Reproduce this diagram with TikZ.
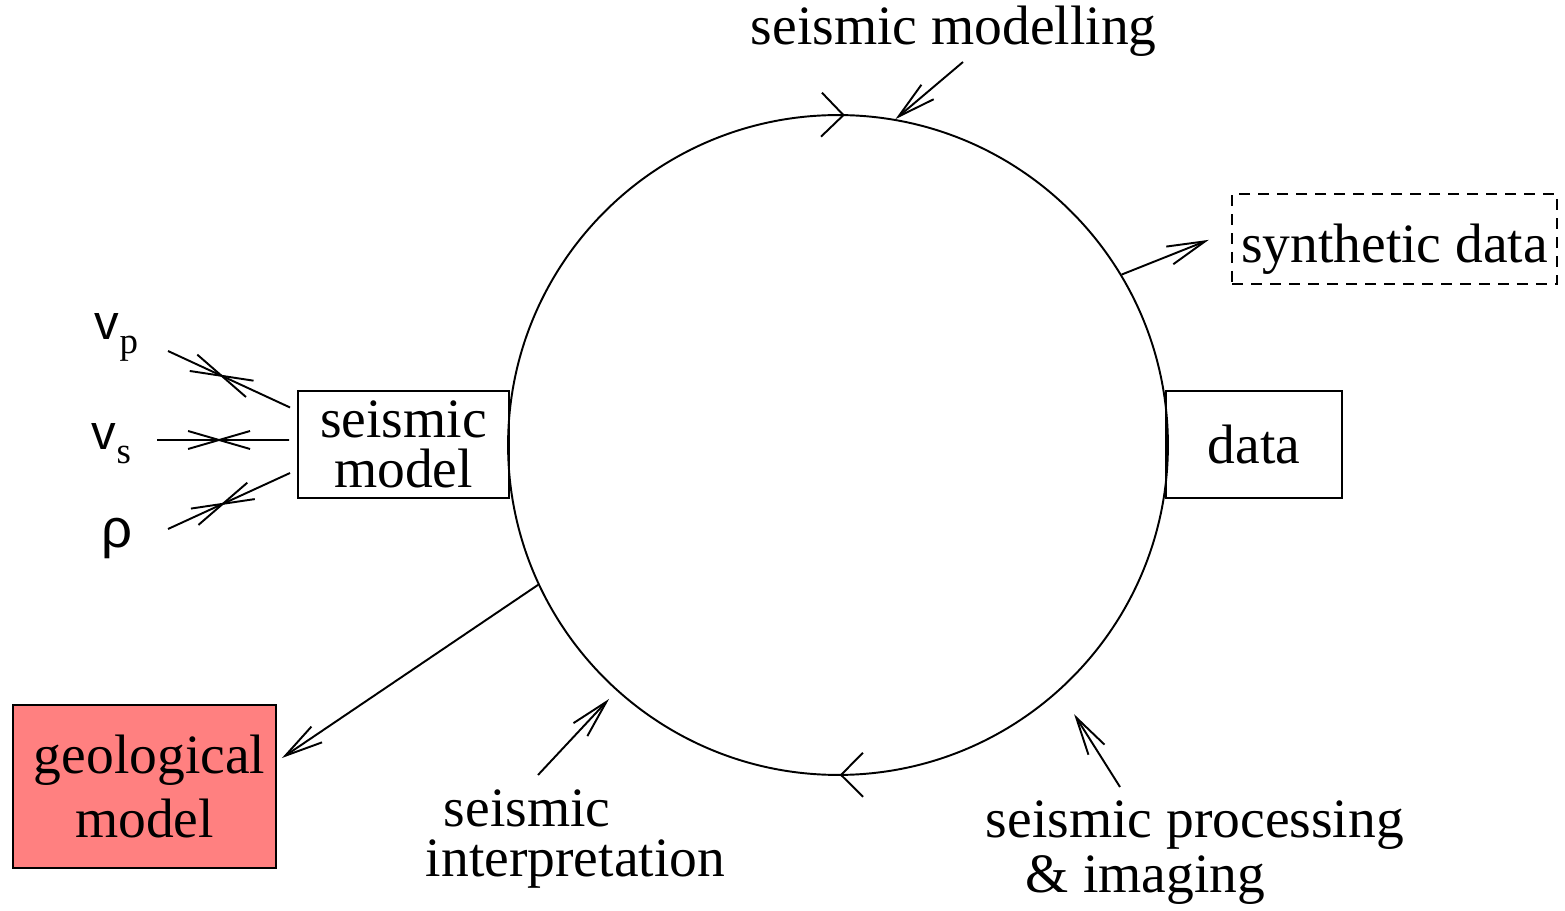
\documentclass[tikz,border=0pt]{standalone}
\usepackage{fontspec}
\setmainfont{Liberation Serif}
\setsansfont{Liberation Sans}
\usetikzlibrary{arrows.meta,decorations.markings}
\definecolor{geofill}{HTML}{FF8080}
\newcommand{\velo}[1]{{\sffamily\fontsize{28pt}{28pt}\selectfont v}\raisebox{-0.28cm}{\fontsize{21pt}{21pt}\selectfont #1}}

\begin{document}
\begin{tikzpicture}[
  x=0.02cm, y=0.02cm, line width=1.1pt,
  every node/.style={font=\fontsize{31.6pt}{28.45pt}\selectfont, inner sep=0pt},
  box/.style={draw, align=center, minimum height=2.14cm},
  txt/.style={align=left},
  arrow/.style={-{Straight Barb[length=0.76cm, width=0.38cm]}},
  crossline/.style={postaction={decorate, decoration={markings,
    mark=at position #1 with {\draw (-0.62cm,-0.18cm) -- (0.62cm,0.18cm) (-0.62cm,0.18cm) -- (0.62cm,-0.18cm);}}}}
]
\useasboundingbox (0,0) rectangle (1565,910);

% the processing loop
\node[draw, circle, minimum size=13.2cm] (loop) at (838,465) {};
\path[decorate, decoration={markings,
  mark=at position 0.2467 with {\arrowreversed{Straight Barb[length=0.44cm, width=0.88cm]}},
  mark=at position 0.7508 with {\arrowreversed{Straight Barb[length=0.44cm, width=0.88cm]}}}]
  (loop.center) circle[radius=6.6cm];

% boxes
\node[box, minimum width=4.22cm] (model) at (403.5,465.5) {seismic\\model};
\node[box, minimum width=3.52cm, text depth=0pt] (data) at (1254,465.5) {data};
\node[box, dash pattern=on 0.22cm off 0.16cm, minimum width=6.5cm, minimum height=1.8cm,
  text height=0.96cm, text depth=0pt] (synth) at (1394.5,671) {synthetic data};
\node[box, fill=geofill, minimum width=5.26cm, minimum height=3.26cm] (geo) at (144.5,123.5) {\hspace{0.2cm}geological\\[0.22cm]model};

% labels
\node[anchor=base west] (modelling) at (750,865) {seismic modelling};
\node[txt, anchor=north west] (interp) at (425,121) {\hspace{0.36cm}seismic\\interpretation};
\node[txt, anchor=north west] (proc) at (985,110) {seismic processing\\[0.1cm]\hspace{0.8cm}\& imaging};
\node[anchor=base west] (vp) at (94,570) {\velo{p}};
\node[anchor=base west] (vs) at (91,460) {\velo{s}};
\node[anchor=base west] (rho) at (101,362) {\sffamily\fontsize{31pt}{31pt}\selectfont ρ};

\coordinate (vp-tail) at (168,559);
\coordinate (vs-tail) at (157,470);
\coordinate (rho-tail) at (168,381);
\coordinate (modelling-tail) at (963,848);
\coordinate (interp-tail) at (538,135);
\coordinate (proc-tail) at (1120,123);

% parameters into the model
\draw[crossline=0.44] (vp-tail) -- ([shift={(-7,37)}]model.west);
\draw[crossline=0.47] (vs-tail) -- ([shift={(-8,4.5)}]model.west);
\draw[crossline=0.45] (rho-tail) -- ([shift={(-7,-28.5)}]model.west);

% arrows
\draw[arrow] (modelling-tail) -- (loop.80);
\draw[arrow, shorten >=0.48cm] (loop.31.5) -- ([shift={(0,8)}]synth.west);
\draw[arrow] (loop.205.6) -- ([shift={(5,28.5)}]geo.east);
\draw[arrow, shorten >=0.22cm] (interp-tail) -- (loop.228);
\draw[arrow, shorten >=0.55cm] (proc-tail) -- (loop.312);
\end{tikzpicture}
\end{document}
